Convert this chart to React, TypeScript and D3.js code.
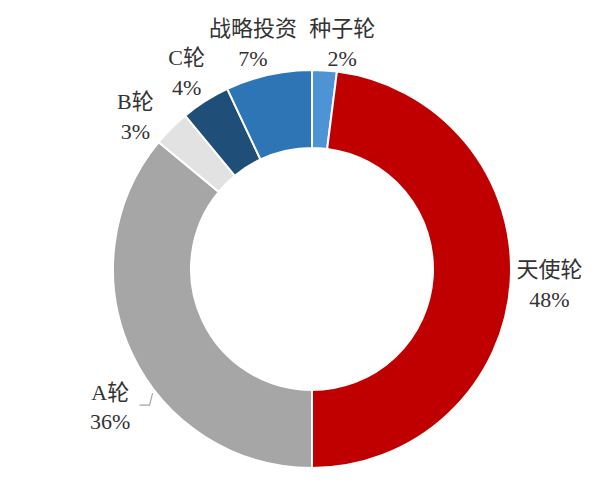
import React from "react";
import * as d3 from "d3";

const categories = ["种子轮", "天使轮", "A轮", "B轮", "C轮", "战略投资"];
const values = [2, 48, 36, 3, 4, 7];
const colors = ["#4e93d6", "#c00000", "#a6a6a6", "#e2e2e2", "#1f4e79", "#2e75b6"];

const W = 600;
const H = 484;
const cx = 312;
const cy = 269;
const outerR = 199;
const innerR = 121;
const labelR = 234;

// small nudges (deg / px) replicating the reference's placed labels
const labelAngleNudge: Record<string, number> = { "种子轮": 4, "A轮": -9, "B轮": -4, "战略投资": -2 };
const labelRadiusNudge: Record<string, number> = { "A轮": 10, "种子轮": -6, "天使轮": 4 };

export default function App() {
  const pie = d3
    .pie<number>()
    .sort(null)
    .value((d) => d)(values);
  const arc = d3.arc<d3.PieArcDatum<number>>().innerRadius(innerR).outerRadius(outerR);
  const total = d3.sum(values);
  const fmt = (v: number) => `${Math.round((v / total) * 100)}%`;
  const fontFamily = "'Liberation Serif', 'Times New Roman', 'Noto Sans CJK SC', serif";

  const pA = pie[2];
  const leadAngle = (pA.startAngle + pA.endAngle) / 2 - (12.7 * Math.PI) / 180;
  const lr = outerR + 3;
  const lx = lr * Math.sin(leadAngle);
  const ly = -lr * Math.cos(leadAngle);

  return (
    <div style={{ position: "absolute", left: 0, top: 0 }}>
      <svg width={W} height={H} style={{ display: "block", background: "#fff" }}>
        <g transform={`translate(${cx},${cy})`}>
          {pie.map((p, i) => (
            <path key={i} d={arc(p) || ""} fill={colors[i]} stroke="#fff" strokeWidth={2} />
          ))}
          {pie.map((p, i) => {
            const name = categories[i];
            const mid = (p.startAngle + p.endAngle) / 2 + ((labelAngleNudge[name] || 0) * Math.PI) / 180;
            const r = labelR + (labelRadiusNudge[name] || 0);
            const x = r * Math.sin(mid);
            const y = -r * Math.cos(mid);
            return (
              <text
                key={"l" + i}
                x={x}
                y={y}
                textAnchor="middle"
                fontFamily={fontFamily}
                fontSize={22}
                fill="#333333"
              >
                <tspan x={x} dy="-0.3em">{name}</tspan>
                <tspan x={x} dy="1.36em">{fmt(values[i])}</tspan>
              </text>
            );
          })}
          <polyline
            points={`${lx},${ly} ${lx - 3},${ly + 12} ${lx - 13},${ly + 12}`}
            fill="none"
            stroke="#a6a6a6"
            strokeWidth={1.2}
          />
        </g>
      </svg>
    </div>
  );
}
